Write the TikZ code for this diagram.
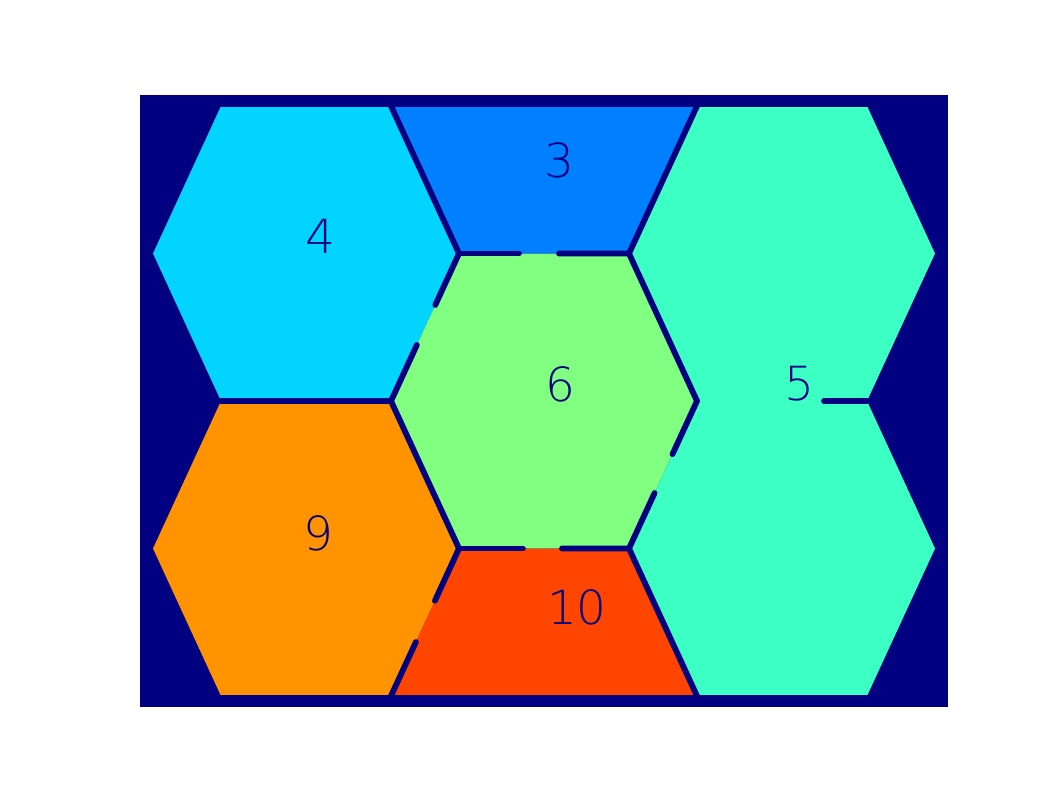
\documentclass[tikz,border=0pt]{standalone}
\usepackage{fontspec}
\setmainfont{Liberation Sans}
\newfontfamily\labfont{DejaVu Sans ExtraLight}
\usetikzlibrary{calc}
\definecolor{bgnavy}{HTML}{000080}
\definecolor{cthree}{HTML}{0080FF}
\definecolor{cfour}{HTML}{00D4FF}
\definecolor{cfive}{HTML}{3CFFC3}
\definecolor{csix}{HTML}{80FF80}
\definecolor{cnine}{HTML}{FF9400}
\definecolor{cten}{HTML}{FF4500}
\newcommand\hexat[2]{({#1-153},{#2}) -- ({#1-85},{#2-147.5}) -- ({#1+85},{#2-147.5}) -- ({#1+153},{#2}) -- ({#1+85},{#2+147.5}) -- ({#1-85},{#2+147.5}) -- cycle}
\tikzset{
  edgeline/.style={draw=bgnavy, line width=5.8pt, line cap=round, line join=round},
  celllabel/.style={text=bgnavy, inner sep=0pt, anchor=base, font=\labfont\fontsize{47}{47}\selectfont}
}
\begin{document}
\begin{tikzpicture}[x=1pt,y=-1pt]
\useasboundingbox (0,0) rectangle (1062,796);
\fill[white] (0,0) rectangle (1062,796);
\fill[bgnavy] (140,95) rectangle (948,707);
\begin{scope}
  \clip (140,107) rectangle (948,694.5);
  \fill[cfour] \hexat{306}{253.5};
  \fill[cnine] \hexat{306}{548.5};
  \fill[cthree] \hexat{544}{106};
  \fill[csix] \hexat{544}{401};
  \fill[cten] \hexat{544}{696};
  \fill[cfive] \hexat{782}{253.5};
  \fill[cfive] \hexat{782}{548.5};
  % vertices
  \coordinate (A) at (391,106);
  \coordinate (B) at (459,253.5);
  \coordinate (C) at (629,253.5);
  \coordinate (D) at (697,106);
  \coordinate (E) at (391,401);
  \coordinate (F) at (697,401);
  \coordinate (G) at (459,548.5);
  \coordinate (H) at (629,548.5);
  \coordinate (I) at (391,696);
  \coordinate (J) at (697,696);
  \coordinate (K) at (221,401);
  \coordinate (L) at (867,401);
  % full edges
  \draw[edgeline] (A) -- (B);
  \draw[edgeline] (D) -- (C) -- (F);
  \draw[edgeline] (K) -- (E) -- (G);
  \draw[edgeline] (H) -- (J);
  % broken edges
  \draw[edgeline] (B) -- ($(B)!0.349!(E)$);
  \draw[edgeline] ($(B)!0.62!(E)$) -- (E);
  \draw[edgeline] (B) -- ($(B)!0.353!(C)$);
  \draw[edgeline] ($(B)!0.588!(C)$) -- (C);
  \draw[edgeline] (F) -- ($(F)!0.36!(H)$);
  \draw[edgeline] ($(F)!0.624!(H)$) -- (H);
  \draw[edgeline] (G) -- ($(G)!0.376!(H)$);
  \draw[edgeline] ($(G)!0.606!(H)$) -- (H);
  \draw[edgeline] (G) -- ($(G)!0.354!(I)$);
  \draw[edgeline] ($(G)!0.634!(I)$) -- (I);
  \draw[edgeline] ($(F)!0.747!(L)$) -- (L);
\end{scope}
\node[celllabel] (l4) at (320,253) {4};
\node[celllabel] (l3) at (559,177.5) {3};
\node[celllabel] (l6) at (560.5,401) {6};
\node[celllabel] (l5) at (799,400) {5};
\node[celllabel] (l9) at (318.5,550) {9};
\node[celllabel] (l10) at (577,624.5) {10};
\end{tikzpicture}
\end{document}
